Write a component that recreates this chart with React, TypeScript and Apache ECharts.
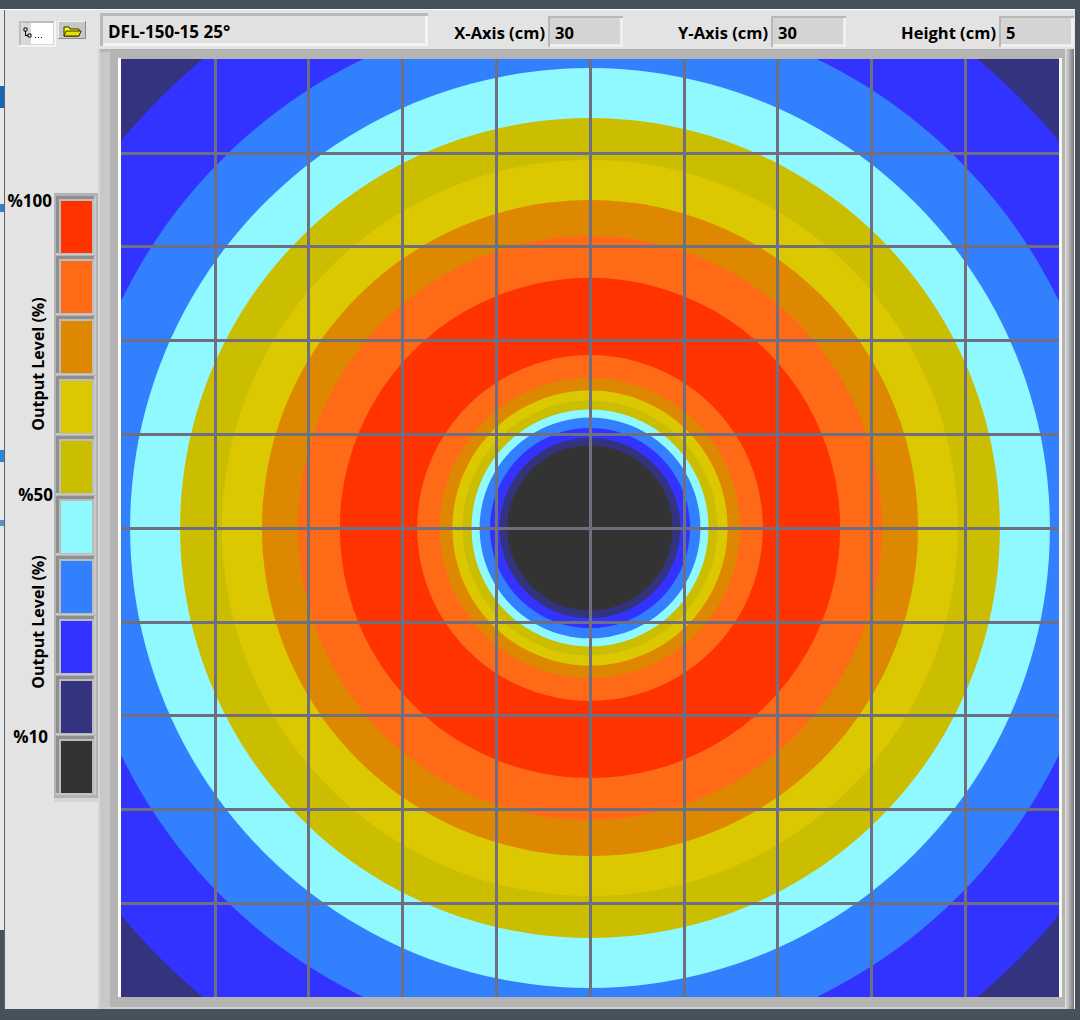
import React, { useEffect, useRef } from "react";
import * as echarts from "echarts";

// ---- data ----
const titleText = "DFL-150-15 25°";
const headerLabels = ["X-Axis (cm)", "Y-Axis (cm)", "Height (cm)"];
const headerValues = ["30", "30", "5"];
const legendTitle = "Output Level (%)";
const legendTickLabels = ["%100", "%50", "%10"];

// axis range in cm (30 cm field centred on the fixture)
const AXIS_MIN = -15;
const AXIS_MAX = 15;
const AXIS_STEP = 3;

// output level bands: index 0 = below 10 %, 9 = 90..100 %
const levelColors = [
  "#333333",
  "#333380",
  "#3333ff",
  "#3380ff",
  "#90f8ff",
  "#cbbd00",
  "#dcc800",
  "#dd8800",
  "#ff6a16",
  "#ff3300",
];

// concentric bands, outermost first: outer radius (cm) and its level band
const ringOuterRadiusCm = [22.0, 19.45, 16.66, 14.71, 13.11, 11.77, 10.49, 9.34, 8.0, 5.53, 4.8, 4.4, 4.08, 3.79, 3.53, 3.2, 2.89, 2.64];
const ringLevel = [1, 2, 3, 4, 5, 6, 7, 8, 9, 8, 7, 6, 5, 4, 3, 2, 1, 0];

const FONT = "'Open Sans', 'Noto Sans', 'DejaVu Sans', sans-serif";

function rect(x: number, y: number, w: number, h: number, fill: any, extra: any = {}) {
  return { type: "rect", silent: true, shape: { x, y, width: w, height: h }, style: { fill, ...extra } };
}
function text(x: number, y: number, t: string, size: number, align = "left", extra: any = {}) {
  return {
    type: "text",
    silent: true,
    x,
    y,
    ...extra,
    style: {
      text: t,
      fill: "#000000",
      font: `bold ${size}px ${FONT}`,
      textAlign: align,
      textVerticalAlign: "middle",
      verticalAlign: "middle",
    },
  };
}

function buildGraphics() {
  const g: any[] = [];
  // window panel
  g.push(rect(0, 9, 1075, 1, "#ffffff"));
  g.push(rect(5, 10, 1070, 999, "#e3e3e3"));
  g.push(rect(4, 10, 1, 999, "#5a6470"));
  // bits of other windows at the far left
  g.push(rect(0, 10, 4, 920, "#e8e8e8"));
  g.push(rect(0, 86, 4, 22, "#1668b0"));
  g.push(rect(0, 204, 4, 8, "#3a7cc0"));
  g.push(rect(0, 450, 4, 12, "#2f86d0"));
  g.push(rect(0, 520, 4, 6, "#5a90c8"));

  // header: tree control
  g.push(rect(19, 21, 37, 26, "#f4f4f4"));
  g.push(rect(19, 21, 35, 24, "#bdbdbd"));
  g.push(rect(21, 23, 33, 22, "#d8d8d8"));
  g.push(rect(31, 23, 22, 21, "#ffffff"));
  g.push(rect(24, 28, 3, 3, "#ffffff", { stroke: "#000000", lineWidth: 1 }));
  g.push(rect(25, 31, 1, 5, "#000000"));
  g.push(rect(25, 35, 3, 1, "#000000"));
  g.push(rect(28, 34, 3, 3, "#ffffff", { stroke: "#000000", lineWidth: 1 }));
  g.push(rect(35, 37, 1, 1, "#000000"));
  g.push(rect(38, 37, 1, 1, "#000000"));
  g.push(rect(41, 37, 1, 1, "#000000"));
  // folder button
  g.push(rect(58, 21, 28, 18, "#8c8c8c"));
  g.push(rect(58, 21, 27, 17, "#f0f0f0"));
  g.push(rect(59, 22, 26, 16, "#c6c6c6"));
  g.push({
    type: "polygon",
    silent: true,
    shape: { points: [[64, 27], [69, 27], [70, 29], [79, 29], [79, 36], [64, 36]] },
    style: { fill: "#ffff00", stroke: "#303000", lineWidth: 1 },
  });
  g.push({
    type: "polygon",
    silent: true,
    shape: { points: [[66, 31], [81, 31], [79, 36], [64, 36]] },
    style: { fill: "#e8e000", stroke: "#303000", lineWidth: 1 },
  });

  // title box
  g.push(rect(100, 13, 328, 33, "#b9b9b9"));
  g.push(rect(103, 16, 325, 30, "#f4f4f4"));
  g.push(rect(103, 16, 322, 27, "#e1e1e1"));
  g.push(text(108, 31, titleText, 17));

  // numeric fields
  const labelRight = [545, 768, 996];
  const boxLeft = [548, 771, 999];
  headerLabels.forEach((lab, i) => {
    g.push(text(labelRight[i], 32, lab, 16.5, "right"));
    const bx = boxLeft[i];
    g.push(rect(bx, 16, 75, 31, "#b8b8b8"));
    g.push(rect(bx + 2, 18, 73, 29, "#efefef"));
    g.push(rect(bx + 2, 18, 70, 26, "#d4d4d4"));
    g.push(text(bx + 7, 32, headerValues[i], 16.5, "left"));
  });

  // plot frame
  g.push(rect(98, 49, 977, 960, "#b4b4b4"));
  g.push(rect(98, 49, 2, 960, "#d6d6d6"));
  g.push(rect(100, 52, 10, 957, "#c8c8c8"));
  g.push(rect(98, 1007, 977, 2, "#d0d0d0"));
  g.push(
    rect(
      1065,
      49,
      9,
      960,
      new echarts.graphic.LinearGradient(0, 0, 1, 0, [
        { offset: 0, color: "#e2e2e2" },
        { offset: 1, color: "#7a7a7a" },
      ])
    )
  );
  g.push(rect(1074, 49, 1, 960, "#f2f2f2"));
  g.push(rect(118, 58, 3, 939, "#ffffff"));
  g.push(rect(1059, 58, 3, 939, "#f6f6f6"));

  // legend column
  g.push(rect(54, 193, 44, 605, "#b3b3b3"));
  g.push(rect(54, 798, 44, 4, "#d4d4d4"));
  for (let k = 0; k < 10; k++) {
    const y0 = 196 + k * 60;
    g.push(rect(56, y0, 40, 59, "#c9c9c9"));
    g.push(rect(56, y0, 38, 57, "#8f8f8f"));
    g.push(rect(59, y0 + 3, 35, 55, "#bcbcbc"));
    g.push(rect(61, y0 + 5, 31, 52, levelColors[9 - k]));
  }
  g.push(text(52, 200, legendTickLabels[0], 17, "right"));
  g.push(text(53, 494, legendTickLabels[1], 17, "right"));
  g.push(text(48, 736, legendTickLabels[2], 17, "right"));
  g.push(text(38, 364, legendTitle, 16, "center", { rotation: Math.PI / 2 }));
  g.push(text(38, 622, legendTitle, 16, "center", { rotation: Math.PI / 2 }));
  return g;
}

export default function App() {
  const ref = useRef<HTMLDivElement>(null);
  useEffect(() => {
    document.body.style.margin = "0";
    if (!ref.current) return;
    const chart = echarts.init(ref.current, undefined, { renderer: "svg" });
    const ringData = ringOuterRadiusCm.map((r, i) => [r, ringLevel[i]]);
    const axisCommon = {
      type: "value",
      min: AXIS_MIN,
      max: AXIS_MAX,
      interval: AXIS_STEP,
      z: 10,
      axisLine: { show: false },
      axisTick: { show: false },
      axisLabel: { show: false },
      splitLine: {
        show: true,
        showMinLine: false,
        showMaxLine: false,
        lineStyle: { color: "#6f6f80", width: 3 },
      },
    };
    chart.setOption({
      animation: false,
      backgroundColor: "#47515b",
      grid: { left: 121, top: 59, width: 938, height: 938, show: false },
      xAxis: axisCommon,
      yAxis: axisCommon,
      graphic: { elements: buildGraphics() },
      series: [
        {
          type: "custom",
          silent: true,
          clip: true,
          data: ringData,
          renderItem: (params: any, api: any) => {
            const r = api.value(0) as number;
            const lvl = api.value(1) as number;
            const c = api.coord([0, 0]);
            const s = api.size([r, r]) as number[];
            return {
              type: "circle",
              shape: { cx: c[0], cy: c[1], r: s[0] },
              style: { fill: levelColors[lvl] },
            };
          },
        },
      ],
    });
    return () => chart.dispose();
  }, []);
  return <div ref={ref} style={{ width: 1080, height: 1020 }} />;
}
